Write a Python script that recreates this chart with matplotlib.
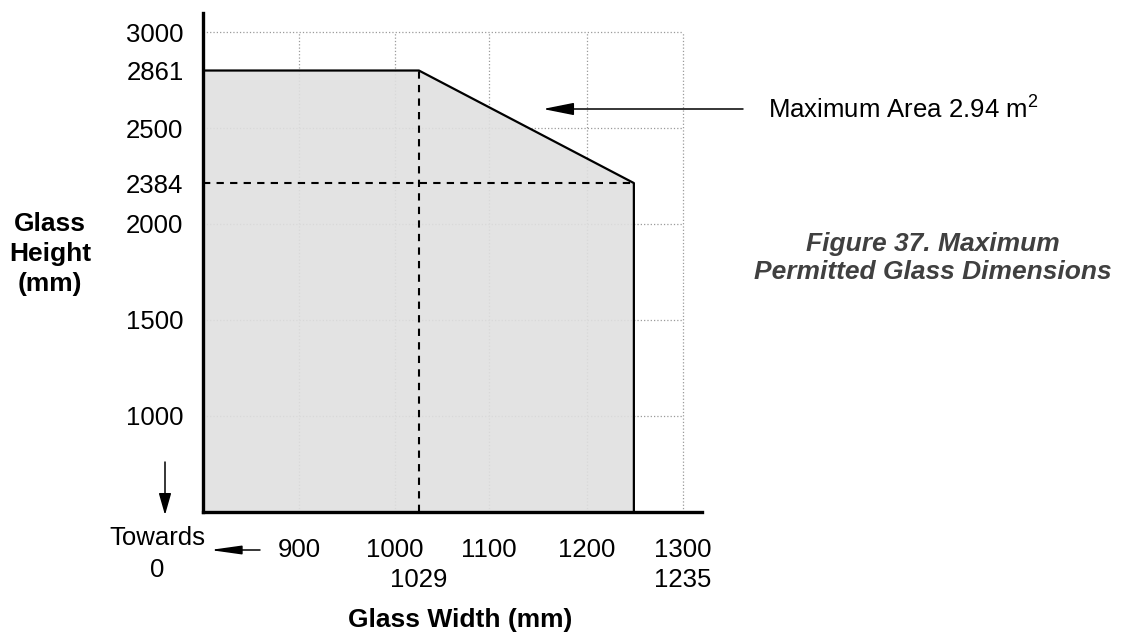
import numpy as np
import matplotlib.pyplot as plt

plt.rcParams['font.family'] = ['Liberation Sans', 'DejaVu Sans']
plt.rcParams['mathtext.fontset'] = 'custom'
plt.rcParams['mathtext.rm'] = 'Liberation Sans'

# permitted glass envelope (mm) - chart is cut off "towards 0"
env_width = [800, 1029, 1235]
env_height = [2861, 2861, 2384]
knee_width = 1029
max_width = 1235
min_height = 2384
base_height = 500

x_ticks = [900, 1000, 1100, 1200, 1300]
y_ticks = [1000, 1500, 2000, 2384, 2500, 2861, 3000]
y_grid = [1000, 1500, 2000, 2500, 3000]
area_label = r"Maximum Area 2.94 m$^{\mathrm{2}}$"

# the original drawing is schematic, not to scale -> piecewise axis scales
x_val = [0, 1000, 1029, 1200, 1235, 1300, 3000]
x_pos = [0, 1000, 1025, 1200, 1249, 1300, 3000]
y_val = [0, 2000, 2384, 2500, 2861, 3000, 5000]
y_pos = [0, 2000, 2213, 2500, 2800, 3000, 5000]

def xf(v): return np.interp(v, x_val, x_pos)
def xi(p): return np.interp(p, x_pos, x_val)
def yf(v): return np.interp(v, y_val, y_pos)
def yi(p): return np.interp(p, y_pos, y_val)

W, H = 1125, 632
fig = plt.figure(figsize=(W / 100, H / 100), dpi=100)
ax = fig.add_axes([203 / W, 1 - 511.5 / H, (702 - 203) / W, (511.5 - 13) / H])
ax.set_xscale('function', functions=(xf, xi))
ax.set_yscale('function', functions=(yf, yi))
ax.set_xlim(800, 1320)
ax.set_ylim(500, 3100)

# grid only up to 1300 / 3000
ax.vlines(x_ticks, base_height, 3000, colors='#9a9a9a', linestyles=':', lw=0.9, zorder=0)
ax.hlines(y_grid, 800, 1300, colors='#9a9a9a', linestyles=':', lw=0.9, zorder=0)

# shaded envelope
ax.fill_between(env_width, base_height, env_height, color='#e0e0e0', alpha=0.9, lw=0, zorder=1)
ax.plot([env_width[0]] + env_width + [max_width],
        [base_height] + env_height + [base_height], color='black', lw=1.6, zorder=3)

# dashed guide lines
ax.plot([knee_width, knee_width], [base_height, env_height[1]], color='black', lw=1.5,
        linestyle=(0, (3.5, 3)), zorder=2)
ax.plot([800, max_width], [min_height, min_height], color='black', lw=1.5,
        linestyle=(0, (3.5, 3)), zorder=2)

for s in ['top', 'right']:
    ax.spines[s].set_visible(False)
for s in ['left', 'bottom']:
    ax.spines[s].set_linewidth(2.4)
    ax.spines[s].set_zorder(4)

ax.set_xticks(x_ticks)
ax.set_xticklabels([str(t) for t in x_ticks])
ax.set_yticks(y_ticks)
ax.set_yticklabels([str(t) for t in y_ticks])
ax.minorticks_off()
ax.tick_params(axis='both', length=0, labelsize=18.5)
ax.tick_params(axis='x', pad=19)
ax.tick_params(axis='y', pad=14)

# second row of width labels
sec = ax.get_xaxis_transform()
ax.text(knee_width, -0.137, str(knee_width), transform=sec, ha='center', va='center', fontsize=18.5)
ax.text(1300, -0.137, str(max_width), transform=sec, ha='center', va='center', fontsize=18.5)

def fx(px): return px / W
def fy(py): return 1 - py / H

fig.text(fx(50), fy(254), "Glass\nHeight\n(mm)", ha='center', va='center',
         fontsize=19, fontweight='bold', linespacing=1.32)
fig.text(fx(460), fy(620), "Glass Width (mm)", ha='center', va='center',
         fontsize=19, fontweight='bold')
fig.text(fx(157), fy(554), "Towards\n0", ha='center', va='center', fontsize=18.5,
         linespacing=1.4)
fig.text(fx(768), fy(109), area_label, ha='left', va='center', fontsize=18.5)
fig.text(fx(933), fy(258), "Figure 37. Maximum\nPermitted Glass Dimensions", ha='center',
         va='center', fontsize=19, fontweight='bold', fontstyle='italic',
         color='#404040', linespacing=1.2)

arw = dict(arrowstyle='-|>,head_length=1.0,head_width=0.2', color='black', lw=1.1,
           mutation_scale=19, shrinkA=0, shrinkB=0)
ax.annotate('', xy=(fx(543), fy(109)), xytext=(fx(743), fy(109)),
            xycoords='figure fraction', textcoords='figure fraction', arrowprops=arw)
ax.annotate('', xy=(fx(210), fy(550)), xytext=(fx(260), fy(550)),
            xycoords='figure fraction', textcoords='figure fraction',
            arrowprops=dict(arw, arrowstyle='-|>,head_length=1.0,head_width=0.14'))
ax.annotate('', xy=(fx(165), fy(515)), xytext=(fx(165), fy(462)),
            xycoords='figure fraction', textcoords='figure fraction',
            arrowprops=dict(arw, arrowstyle='-|>,head_length=0.7,head_width=0.2'))

fig.savefig('out.png', dpi=100)
